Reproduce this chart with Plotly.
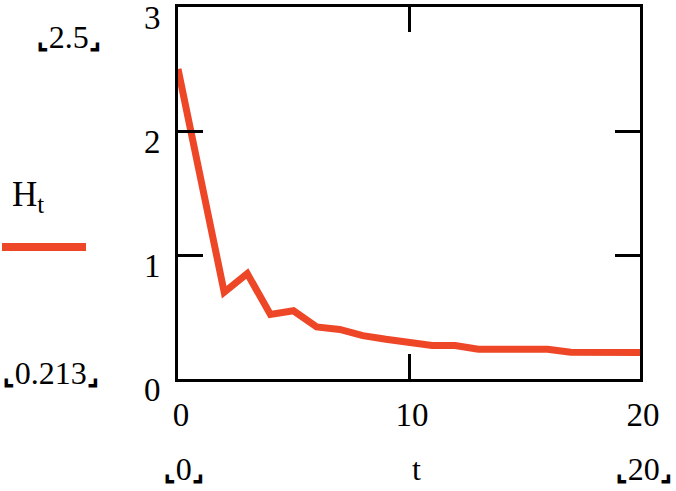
import plotly.graph_objects as go

t = list(range(21))
H = [2.5, 1.6, 0.70, 0.85, 0.52, 0.55, 0.42, 0.40, 0.35, 0.32, 0.30,
     0.27, 0.27, 0.24, 0.24, 0.24, 0.24, 0.215, 0.213, 0.213, 0.213]
x_ticks = [0, 10, 20]
y_ticks = [0, 1, 2, 3]

W, Hh = 676, 491
L, R, T, B = 178, 640, 7, 379
RED = "#EE4727"
FONT = "Liberation Serif, Times New Roman, serif"
FS = 33
AFS = 32

def px(x):
    return (x - L) / (R - L)

def py(y):
    return (B - y) / (B - T)

fig = go.Figure()
fig.add_trace(go.Scatter(x=t, y=H, mode="lines",
                         line=dict(color=RED, width=7), showlegend=False))

axis_common = dict(showline=True, mirror="ticks", linecolor="black", linewidth=3,
                   ticks="inside", tickcolor="black", tickwidth=3, ticklen=25,
                   showgrid=False, zeroline=False, ticklabeloverflow="allow",
                   automargin=False,
                   tickfont=dict(family=FONT, size=FS, color="black"))
fig.update_xaxes(range=[0, 20], tickvals=x_ticks, ticklabelstandoff=4,
                 ticklabelshift=3, **axis_common)
fig.update_yaxes(range=[0, 3], tickvals=y_ticks, ticklabelstandoff=8,
                 ticklabelshift=10, **axis_common)

LB = "<span style='font-family:DejaVu Sans;font-size:27px;font-weight:bold'>⌞</span>"
RB = "<span style='font-family:DejaVu Sans;font-size:27px;font-weight:bold'>⌟</span>"

ann = []
def text(x, y, s, size=AFS, xanchor="center"):
    ann.append(dict(x=px(x), y=py(y), xref="paper", yref="paper", text=s,
                    showarrow=False, xanchor=xanchor, yanchor="middle",
                    font=dict(family=FONT, size=size, color="black")))

text(68, 37, LB + "2.5" + RB)
text(50, 373, LB + "0.213" + RB)
text(28, 196, "H<sub><span style='font-size:25px'>t</span></sub>", size=35)
text(183, 469, LB + "0" + RB)
text(416, 469, "t")
text(643, 469, LB + "20" + RB)
fig.update_layout(annotations=ann)

fig.add_shape(type="line", xref="paper", yref="paper",
              x0=px(2), x1=px(86), y0=py(247), y1=py(247),
              line=dict(color=RED, width=8))

fig.update_layout(width=W, height=Hh, plot_bgcolor="white", paper_bgcolor="white",
                  margin=dict(l=L, r=W - R, t=T, b=Hh - B, pad=0))
fig.write_html("out.html", config={"displayModeBar": False},
               post_script="document.body.style.margin='0';")
